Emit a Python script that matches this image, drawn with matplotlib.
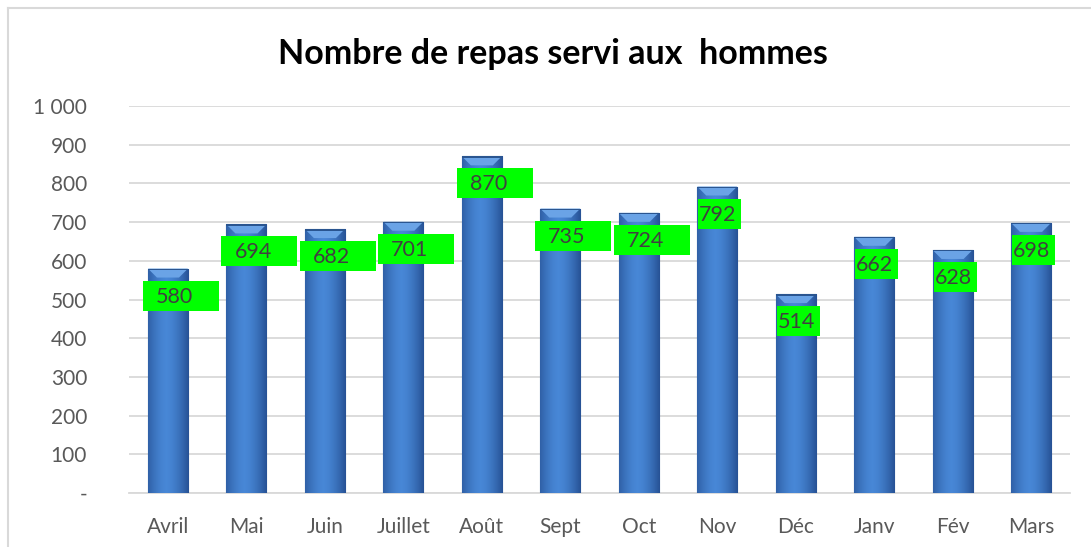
import numpy as np
import matplotlib
matplotlib.use("Agg")
import matplotlib.pyplot as plt
from matplotlib.patches import Rectangle, Polygon
from matplotlib.transforms import ScaledTranslation
from matplotlib.lines import Line2D

months = ["Avril", "Mai", "Juin", "Juillet", "Août", "Sept", "Oct",
          "Nov", "Déc", "Janv", "Fév", "Mars"]
repas = [580, 694, 682, 701, 870, 735, 724, 792, 514, 662, 628, 698]
yticks = [0, 100, 200, 300, 400, 500, 600, 700, 800, 900, 1000]
ytick_labels = ["-", "100", "200", "300", "400", "500", "600", "700",
                "800", "900", "1 000"]
title = "Nombre de repas servi aux  hommes"

# green label boxes: first seven are wide, the rest fit the text
wide_box = [True] * 7 + [False] * 5

plt.rcParams['font.family'] = ['Lato', 'DejaVu Sans']

fig = plt.figure(figsize=(10.91, 5.47), dpi=100)
ax = fig.add_axes([0.118, 0.0987, 0.863, 0.7075])

x = np.arange(len(months))
ax.set_xlim(-0.5, len(months) - 0.5)
ax.set_ylim(0, 1000)
ax.set_autoscale_on(False)

bw = 0.51
bars = ax.bar(x, repas, width=bw, color="#3d79c8", edgecolor="#244a80",
              linewidth=0.8, zorder=3)

# horizontal gradient inside each bar
grad = np.linspace(0, 1, 64)
shade = 1 - (2 * np.abs(grad - 0.45)) ** 1.6
c_edge = np.array([0.17, 0.35, 0.62])
c_mid = np.array([0.28, 0.53, 0.84])
img = c_edge[None, :] + (c_mid - c_edge)[None, :] * shade[:, None]
img = img[None, :, :]
wp = ax.transData.transform((bw, 0))[0] - ax.transData.transform((0, 0))[0]
for b in bars:
    x0, w, h = b.get_x(), b.get_width(), b.get_height()
    im = ax.imshow(img, extent=[x0, x0 + w, 0, h], aspect="auto",
                   zorder=3.1, interpolation="bicubic")
    im.set_clip_path(b)
    # top bevel
    tr = ScaledTranslation(x0, h, ax.transData)
    bev = Polygon([(0, 0), (wp, 0), (wp - 9, -9), (9, -9)], closed=True,
                  transform=tr, facecolor="#6aa3e6", edgecolor="none",
                  zorder=3.2)
    ax.add_patch(bev)
    ax.add_patch(Rectangle((0, -1.5), wp, 1.5, transform=tr,
                           facecolor="#2a5590", edgecolor="none", zorder=3.3))

# data labels
for xi, v, wide in zip(x, repas, wide_box):
    tr = ScaledTranslation(xi, v, ax.transData)
    if wide:
        bx, bwid, tx = -25, 76, -12
    else:
        bx, bwid, tx = -19, 43, -18
    ax.add_patch(Rectangle((bx, -42), bwid, 30, transform=tr,
                           facecolor="#00ff00", edgecolor="none", zorder=4))
    ax.annotate(str(v), (xi, v), xytext=(tx, -34), textcoords="offset pixels",
                ha="left", va="baseline", fontsize=15.5, color="#404040",
                zorder=5)

ax.set_yticks(yticks)
ax.set_yticklabels(ytick_labels)
ax.set_xticks(x)
ax.set_xticklabels(months)
ax.tick_params(axis="both", length=0, labelsize=15, labelcolor="#595959")
ax.tick_params(axis="x", pad=17)
ax.tick_params(axis="y", pad=30)
ax.grid(axis="y", color="#d9d9d9", linewidth=1.3, zorder=0)
ax.set_axisbelow(True)
for s in ["top", "right", "left"]:
    ax.spines[s].set_visible(False)
ax.spines["bottom"].set_color("#d9d9d9")
ax.spines["bottom"].set_linewidth(1.3)

fig.text(0.507, 0.902, title, ha="center", va="center", fontsize=24.5,
         fontweight="bold", color="black")

# chart frame (top and left edges visible)
fig.add_artist(Line2D([7.5 / 1091, 1], [1 - 7.5 / 547] * 2,
                      transform=fig.transFigure, color="#d9d9d9", linewidth=1.5))
fig.add_artist(Line2D([7.5 / 1091] * 2, [0, 1 - 7.5 / 547],
                      transform=fig.transFigure, color="#d9d9d9", linewidth=1.5))

fig.savefig("out.png", dpi=100)
